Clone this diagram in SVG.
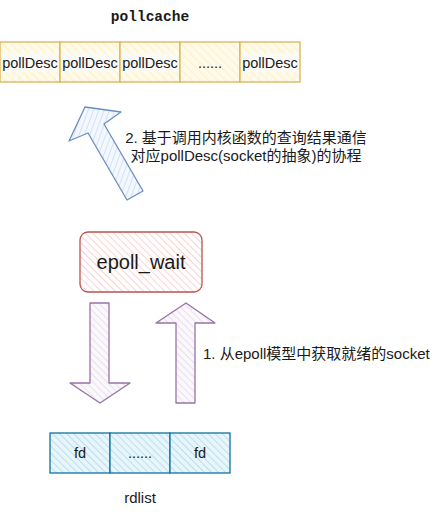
<svg xmlns="http://www.w3.org/2000/svg" width="441" height="513" viewBox="0 0 441 513">
<defs>
<pattern id="hY" patternUnits="userSpaceOnUse" width="6" height="6" patternTransform="rotate(-45)"><rect width="6" height="6" fill="#fffaea"/><line x1="0" y1="0" x2="0" y2="6" stroke="#fff2cc" stroke-width="3"/></pattern>
<pattern id="hR" patternUnits="userSpaceOnUse" width="5" height="5" patternTransform="rotate(-45)"><rect width="5" height="5" fill="#fff"/><line x1="0" y1="0" x2="0" y2="5" stroke="#f5c2c0" stroke-width="1.4"/></pattern>
<pattern id="hB" patternUnits="userSpaceOnUse" width="5" height="5" patternTransform="rotate(-45)"><rect width="5" height="5" fill="#e8f5fb"/><line x1="0" y1="0" x2="0" y2="5" stroke="#a6d7ec" stroke-width="1.4"/></pattern>
<pattern id="hP" patternUnits="userSpaceOnUse" width="5" height="5" patternTransform="rotate(-45)"><rect width="5" height="5" fill="#fbf8fc"/><line x1="0" y1="0" x2="0" y2="5" stroke="#e1d5e7" stroke-width="1.4"/></pattern>
<pattern id="hL" patternUnits="userSpaceOnUse" width="5" height="5" patternTransform="rotate(20)"><rect width="5" height="5" fill="#f3f7fe"/><line x1="0" y1="0" x2="0" y2="5" stroke="#c6d8f5" stroke-width="1.4"/></pattern>
</defs>
<style>
.t{font-family:"Liberation Sans","Noto Sans CJK SC",Arial,sans-serif;fill:#1a1a1a}
.c{text-anchor:middle;dominant-baseline:central}
.y{fill:url(#hY);stroke:#d6b656;stroke-width:1.3}
.b{fill:url(#hB);stroke:#10739e;stroke-width:1.3}
.p{fill:url(#hP);stroke:#9673a6;stroke-width:1.3;stroke-linejoin:round}
</style>
<rect width="441" height="513" fill="#fff"/>
<g id="pollcache-title"><text x="150" y="17" class="c" style="font-family:'Liberation Mono','Courier New',monospace;font-weight:bold;font-size:14.5px;fill:#1a1a1a">pollcache</text></g>
<g id="pollcache">
<rect x="0" y="42" width="60" height="40" class="y"/>
<rect x="60" y="42" width="60" height="40" class="y"/>
<rect x="120" y="42" width="60" height="40" class="y"/>
<rect x="180" y="42" width="60" height="40" class="y"/>
<rect x="240" y="42" width="60" height="40" class="y"/>
<g fill="#fafafa" opacity="0.85"><rect x="2" y="53" width="56" height="19"/><rect x="62" y="53" width="56" height="19"/><rect x="122" y="53" width="56" height="19"/><rect x="242" y="53" width="56" height="19"/></g>
<text x="30" y="63" class="t c" font-size="14.5">pollDesc</text>
<text x="90" y="63" class="t c" font-size="14.5">pollDesc</text>
<text x="150" y="63" class="t c" font-size="14.5">pollDesc</text>
<text x="210" y="63" class="t c" font-size="14.5">......</text>
<text x="270" y="63" class="t c" font-size="14.5">pollDesc</text>
</g>
<g id="connectors">
<polygon points="85,107 121,112 104,124 143,191 127,200 88,133 69,141" fill="url(#hL)" stroke="#6c8ebf" stroke-width="1.3" stroke-linejoin="round"/>
<polygon points="90,303 109,303 109,383 130,383 100,403 70,383 90,383" class="p"/>
<polygon points="186,303 215,323 195,323 195,403 176,403 176,323 156,323" class="p"/>
</g>
<g id="label2">
<text x="246" y="137" class="t c" font-size="15">2. 基于调用内核函数的查询结果通信</text>
<text x="246" y="155" class="t c" font-size="15">对应pollDesc(socket的抽象)的协程</text>
</g>
<g id="epoll_wait">
<rect x="80" y="232" width="122" height="60" rx="8" fill="url(#hR)" stroke="#b85450" stroke-width="1.3"/>
<text x="141" y="262" class="t c" font-size="20">epoll_wait</text>
</g>
<g id="label1"><text x="203" y="353" class="t" font-size="15" dominant-baseline="central">1. 从epoll模型中获取就绪的socket</text></g>
<g id="rdlist">
<rect x="50" y="433" width="60" height="40" class="b"/>
<rect x="110" y="433" width="60" height="40" class="b"/>
<rect x="170" y="433" width="60" height="40" class="b"/>
<text x="80" y="453" class="t c" font-size="14.5">fd</text>
<text x="140" y="453" class="t c" font-size="14.5">......</text>
<text x="200" y="453" class="t c" font-size="14.5">fd</text>
</g>
<g id="rdlist-label"><text x="140" y="497" class="t c" font-size="15">rdlist</text></g>
</svg>
